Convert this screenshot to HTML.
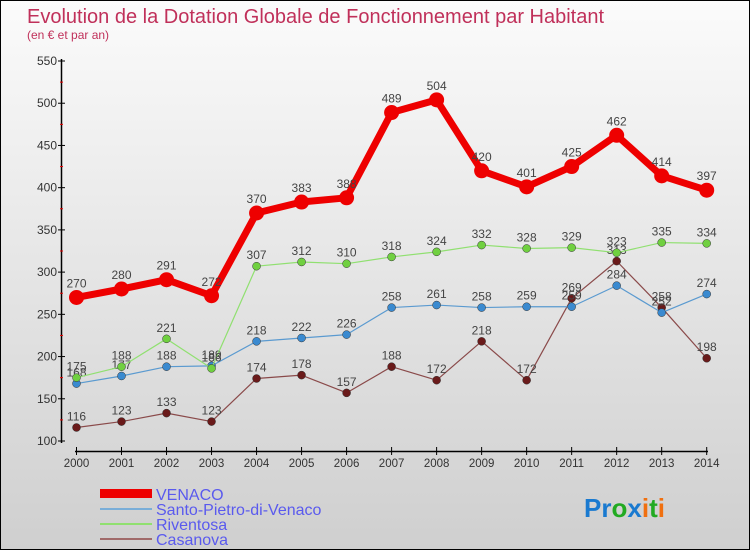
<!DOCTYPE html>
<html><head><meta charset="utf-8"><style>
body{margin:0}
#c{position:relative;width:748px;height:548px;border:1px solid #000;background:linear-gradient(#fbfbfb,#cfcfcf);font-family:"Liberation Sans",sans-serif;overflow:hidden}
</style></head><body>
<div id="c">
<svg id="s" width="748" height="548" style="position:absolute;left:0;top:0">
<text x="26" y="22" font-size="20" fill="#c0305a">Evolution de la Dotation Globale de Fonctionnement par Habitant</text>
<text x="26" y="38" font-size="12" fill="#c0305a">(en € et par an)</text>
<g id="axes"></g><g id="series"></g>
<g>
<rect x="99" y="488" width="52" height="9" fill="#e00"/>
<text x="155" y="499" font-size="16" fill="#5a5aee">VENACO</text>
<line x1="99" y1="508" x2="151" y2="508" stroke="#7aaed8" stroke-width="2"/>
<text x="155" y="514" font-size="16" fill="#5a5aee">Santo-Pietro-di-Venaco</text>
<line x1="99" y1="523" x2="151" y2="523" stroke="#90e070" stroke-width="2"/>
<text x="155" y="529" font-size="16" fill="#5a5aee">Riventosa</text>
<line x1="99" y1="538" x2="151" y2="538" stroke="#a06a6a" stroke-width="2"/>
<text x="155" y="544" font-size="16" fill="#5a5aee">Casanova</text>
</g>
<text x="583" y="516" font-size="26" font-weight="bold"><tspan fill="#1a7ad0">Pr</tspan><tspan fill="#2a2">o</tspan><tspan fill="#1a7ad0">x</tspan><tspan fill="#f07010">i</tspan><tspan fill="#2a2">t</tspan><tspan fill="#f07010">i</tspan></text>
</svg>
</div>
<script>
const years=[2000,2001,2002,2003,2004,2005,2006,2007,2008,2009,2010,2011,2012,2013,2014];
const venaco=[270,280,291,272,370,383,388,489,504,420,401,425,462,414,397];
const santo=[168,177,188,189,218,222,226,258,261,258,259,259,284,252,274];
const riventosa=[175,188,221,186,307,312,310,318,324,332,328,329,323,335,334];
const casanova=[116,123,133,123,174,178,157,188,172,218,172,269,313,258,198];
const yTicks=[100,150,200,250,300,350,400,450,500,550];
const NS="http://www.w3.org/2000/svg";
const X=i=>75.5+i*(705.7-75.5)/(years.length-1);
const Y=v=>440-(v-100)*(380/450);
function el(t,a,p){const e=document.createElementNS(NS,t);for(const k in a)e.setAttribute(k,a[k]);p.appendChild(e);return e;}
const ax=document.getElementById('axes');
let e=el('line',{x1:60.5,y1:58,x2:60.5,y2:442,stroke:'#000','stroke-width':1.5},ax);


e=el('line',{x1:74,y1:450.5,x2:707,y2:450.5,stroke:'#000','stroke-width':1.5},ax);


yTicks.forEach(v=>{
 el('line',{x1:57,y1:Y(v),x2:64,y2:Y(v),stroke:'#000'},ax);
 if(v<550)el('line',{x1:59,y1:Y(v+25),x2:62,y2:Y(v+25),stroke:'#e00'},ax);
 const t=el('text',{x:56,y:Y(v)+4,'font-size':12,fill:'#333','text-anchor':'end'},ax);t.textContent=v;
 
 
});
years.forEach((y,i)=>{
 el('line',{x1:X(i),y1:446,x2:X(i),y2:454,stroke:'#000'},ax);
 const t=el('text',{x:X(i),y:466,'font-size':11.5,fill:'#333','text-anchor':'middle'},ax);t.textContent=y;
 
 
});
const sg=document.getElementById('series');
function draw(data,name,lc,pc,lw,r){
 const g=el('g',{},sg);
 
 
 const p=el('polyline',{points:data.map((v,i)=>X(i)+','+Y(v)).join(' '),fill:'none',stroke:lc,'stroke-width':lw,'stroke-linejoin':'round'},g);
 
 
 data.forEach((v,i)=>{
  const c=el('circle',{cx:X(i),cy:Y(v),r:r,fill:pc,stroke:lw>3?'none':'#333','stroke-width':0.5},g);
  
  
  const t=el('text',{x:X(i),y:Y(v)-(lw>3?10:7),'font-size':12,fill:'#444','text-anchor':'middle'},g);t.textContent=v;
  
  
 });
}
draw(casanova,'casanova','#8a4a4a','#6a1a1a',1.2,4);
draw(santo,'santo-pietro','#5a9ad0','#3a8ad0',1.2,4);
draw(riventosa,'riventosa','#90e070','#70d040',1.2,4);
draw(venaco,'venaco','#ee0000','#ee0000',7,7.5);
</script>
</body></html>
